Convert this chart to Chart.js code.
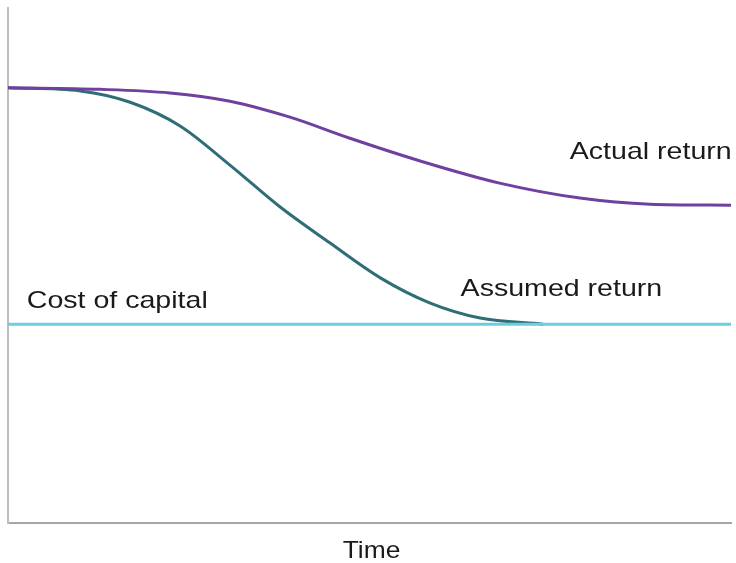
<!DOCTYPE html>
<html>
<head>
<meta charset="utf-8">
<script src="https://cdn.jsdelivr.net/npm/chart.js@4/dist/chart.umd.min.js"></script>
<style>
  html, body { margin: 0; padding: 0; background: #fff; }
  #wrap { position: relative; width: 736px; height: 563px; }
</style>
</head>
<body>
<div id="wrap"><canvas id="chart"></canvas></div>
<script>
// time axis 0..100, return axis 0..100 (arbitrary units)
const actualTime   = [0, 12.7, 22.4, 30.7, 39.0, 47.3, 57.0, 68.0, 79.1, 88.8, 100];
const actualReturn = [84.5, 84.2, 83.5, 81.9, 78.8, 74.7, 70.3, 66.0, 63.1, 61.9, 61.7];

const assumedTime   = [0, 10.0, 16.9, 23.8, 30.7, 37.6, 44.5, 51.5, 58.4, 65.3, 74.0];
const assumedReturn = [84.5, 83.9, 81.7, 77.1, 69.5, 61.4, 54.4, 47.6, 42.7, 39.8, 38.6];

const capitalTime   = [0, 100];
const capitalReturn = [38.6, 38.6];

// label anchors in data units: [text, time, return]
const labels = [
  ['Actual return', 77.7, 70.6],
  ['Assumed return', 62.6, 44.1],
  ['Cost of capital', 2.6, 41.8],
];

const toPoints = (xs, ys) => xs.map((x, i) => ({ x: x, y: ys[i] }));

const textPlugin = {
  id: 'lineText',
  afterDraw(chart) {
    const { ctx, scales, chartArea } = chart;
    ctx.save();
    ctx.fillStyle = '#1a1a1a';
    ctx.font = '24px "Liberation Sans", Arial, sans-serif';
    ctx.textBaseline = 'alphabetic';
    labels.forEach(([text, t, r]) => {
      const px = scales.x.getPixelForValue(t);
      const py = scales.y.getPixelForValue(r);
      ctx.save();
      ctx.translate(px, py);
      ctx.scale(1.19, 1);
      ctx.textAlign = 'left';
      ctx.fillText(text, 0, 0);
      ctx.restore();
    });
    // axis title
    const cx = (chartArea.left + chartArea.right) / 2 + 2;
    ctx.save();
    ctx.translate(cx, chartArea.bottom + 35);
    ctx.scale(1.1, 1);
    ctx.textAlign = 'center';
    ctx.fillText('Time', 0, 0);
    ctx.restore();
    ctx.restore();
  }
};

const line = (data, color) => ({
  data: data,
  borderColor: color,
  borderWidth: 3,
  pointRadius: 0,
  fill: false,
  cubicInterpolationMode: 'monotone',
});

new Chart(document.getElementById('chart'), {
  type: 'line',
  data: {
    datasets: [
      line(toPoints(capitalTime, capitalReturn), '#6ccde0'),
      line(toPoints(actualTime, actualReturn), '#6f409f'),
      line(toPoints(assumedTime, assumedReturn), '#2f6e76'),
    ],
  },
  options: {
    responsive: true,
    maintainAspectRatio: false,
    animation: false,
    layout: { padding: { left: 8, top: 8, right: 5, bottom: 40 } },
    plugins: { legend: { display: false }, tooltip: { enabled: false } },
    scales: {
      x: {
        type: 'linear',
        min: 0,
        max: 100,
        ticks: { display: false },
        grid: { display: false, drawTicks: false },
        border: { display: true, color: '#a6a6a6', width: 2 },
      },
      y: {
        min: 0,
        max: 100,
        ticks: { display: false },
        grid: { display: false, drawTicks: false },
        border: { display: true, color: '#bfbfbf', width: 2 },
      },
    },
  },
  plugins: [textPlugin],
});
</script>
</body>
</html>
